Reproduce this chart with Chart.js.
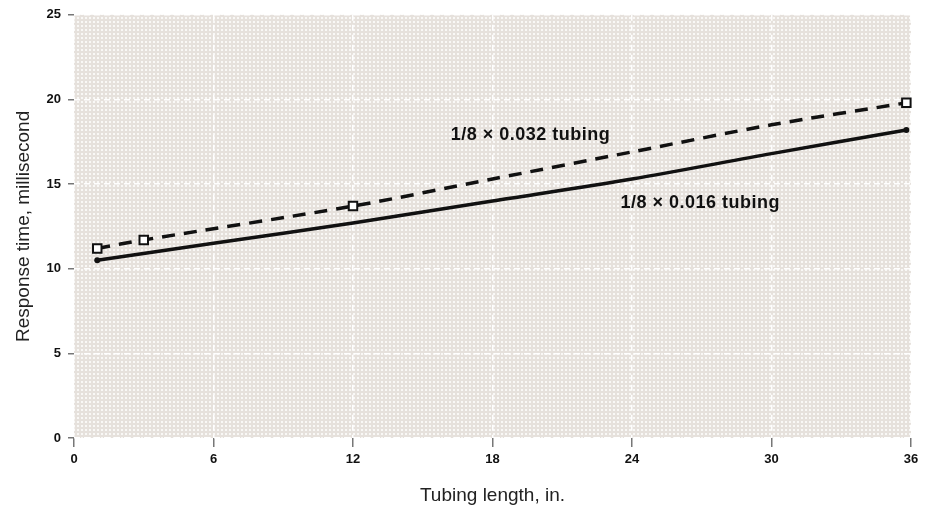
<!DOCTYPE html>
<html>
<head>
<meta charset="utf-8">
<script src="https://cdn.jsdelivr.net/npm/chart.js@4/dist/chart.umd.min.js"></script>
<style>
    html, body { margin: 0; padding: 0; background: #fff; }
    #wrap { width: 932px; height: 508px; position: relative; }
</style>
</head>
<body>
<div id="wrap"><canvas id="chart"></canvas></div>
<script>
// Response time vs tubing length
const xTicks = [0, 6, 12, 18, 24, 30, 36];
const yTicks = [0, 5, 10, 15, 20, 25];

// 1/8 x 0.032 tubing (dashed, open squares at measured points)
const lengthWide = [1, 3, 12, 18, 24, 30, 35.8];
const timeWide = [11.2, 11.7, 13.7, 15.3, 16.9, 18.5, 19.8];
const markedWide = [true, true, true, false, false, false, true];

// 1/8 x 0.016 tubing (solid)
const lengthNarrow = [1, 6, 12, 18, 24, 30, 35.8];
const timeNarrow = [10.5, 11.5, 12.7, 14.0, 15.3, 16.8, 18.2];
const markedNarrow = [true, false, false, false, false, false, true];

const seriesLabels = ['1/8 \u00d7 0.032 tubing', '1/8 \u00d7 0.016 tubing'];

function toPoints(xs, ys) {
    return xs.map((x, i) => ({ x: x, y: ys[i] }));
}

// dotted grey texture behind the plot
function makeTexture(ctx) {
    const tile = document.createElement('canvas');
    tile.width = 4;
    tile.height = 4;
    const t = tile.getContext('2d');
    t.fillStyle = '#e6e1dc';
    t.fillRect(0, 0, 4, 4);
    t.fillStyle = '#f9f8f6';
    t.fillRect(1, 1, 2, 2);
    return ctx.createPattern(tile, 'repeat');
}

const plotBackground = {
    id: 'plotBackground',
    beforeDraw(chart) {
        const { ctx, chartArea: a } = chart;
        ctx.save();
        ctx.fillStyle = makeTexture(ctx);
        ctx.fillRect(a.left, a.top, a.right - a.left, a.bottom - a.top);
        ctx.restore();
    }
};

const lineLabels = {
    id: 'lineLabels',
    afterDatasetsDraw(chart) {
        const { ctx, scales } = chart;
        const spots = [[16.2, 17.9], [23.5, 13.9]];
        ctx.save();
        ctx.font = 'bold 18px "Liberation Sans", Arial, sans-serif';
        ctx.letterSpacing = '0.5px';
        ctx.fillStyle = '#111';
        ctx.textBaseline = 'middle';
        spots.forEach((s, i) => {
            ctx.fillText(seriesLabels[i], scales.x.getPixelForValue(s[0]), scales.y.getPixelForValue(s[1]));
        });
        ctx.restore();
    }
};

const tickFont = { family: '"Liberation Sans", Arial, sans-serif', size: 13, weight: 'bold' };
const titleFont = { family: '"Liberation Sans", Arial, sans-serif', size: 19 };

new Chart(document.getElementById('chart'), {
    type: 'line',
    data: {
        datasets: [{
            label: seriesLabels[0],
            data: toPoints(lengthWide, timeWide),
            borderColor: '#111',
            borderWidth: 3.5,
            borderDash: [13, 9],
            tension: 0.3,
            clip: false,
            pointStyle: 'rect',
            pointRadius: markedWide.map(m => m ? 6 : 0),
            pointBorderWidth: 2,
            pointBorderColor: '#111',
            pointBackgroundColor: '#fff'
        }, {
            label: seriesLabels[1],
            data: toPoints(lengthNarrow, timeNarrow),
            borderColor: '#111',
            borderWidth: 3.5,
            tension: 0.3,
            clip: false,
            pointRadius: markedNarrow.map(m => m ? 3 : 0),
            pointBorderWidth: 0,
            pointBackgroundColor: '#111'
        }]
    },
    options: {
        responsive: true,
        maintainAspectRatio: false,
        animation: false,
        layout: { padding: { top: 12, right: 21, left: 0, bottom: 0 } },
        plugins: {
            legend: { display: false },
            tooltip: { enabled: false }
        },
        scales: {
            x: {
                type: 'linear',
                min: 0,
                max: 36,
                afterBuildTicks: s => { s.ticks = xTicks.map(v => ({ value: v })); },
                afterFit: s => { s.height = 70; },
                grid: {
                    color: 'rgba(255,255,255,0.95)',
                    lineWidth: 1.5,
                    tickColor: '#777',
                    tickLength: 9,
                    tickBorderDash: []
                },
                border: { display: false, dash: [6, 4] },
                ticks: { color: '#111', font: tickFont, padding: 5, maxRotation: 0 },
                title: { display: true, text: 'Tubing length, in.', color: '#222', font: titleFont, padding: { top: 0, bottom: 1 } }
            },
            y: {
                min: 0,
                max: 25,
                afterBuildTicks: s => { s.ticks = yTicks.map(v => ({ value: v })); },
                afterFit: s => { s.width = 74; },
                grid: {
                    color: 'rgba(255,255,255,0.95)',
                    lineWidth: 1.5,
                    tickColor: '#777',
                    tickLength: 6,
                    tickBorderDash: []
                },
                border: { display: false, dash: [6, 4] },
                ticks: { color: '#111', font: tickFont, padding: 7 },
                title: { display: true, text: 'Response time, millisecond', color: '#222', font: titleFont, padding: { top: 12, bottom: 0 } }
            }
        }
    },
    plugins: [plotBackground, lineLabels]
});
</script>
</body>
</html>
